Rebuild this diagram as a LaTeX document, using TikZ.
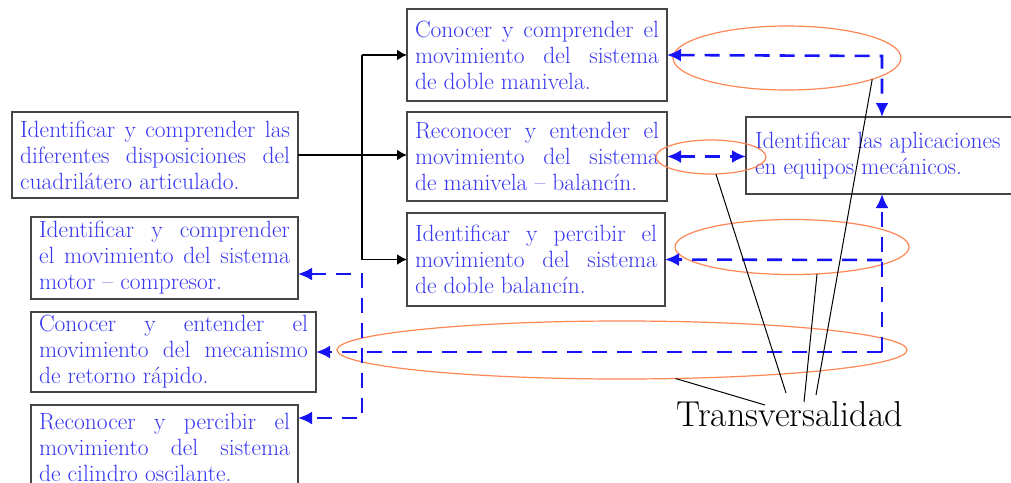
\documentclass[tikz,border=0pt]{standalone}
\usepackage{fontspec}
\usetikzlibrary{arrows.meta,shapes.geometric}
\definecolor{txtblue}{RGB}{55,55,240}
\definecolor{dashblue}{RGB}{20,20,245}
\definecolor{ellorange}{RGB}{255,135,85}
\definecolor{boxgray}{RGB}{70,70,70}
\newcommand{\bt}[2]{\parbox{#1pt}{\fontsize{23.5}{26}\selectfont\color{txtblue}\tolerance=10000\hbadness=10000\parindent=0pt #2\par}}
\newcommand{\btl}[2]{\parbox{#1pt}{\fontsize{23.5}{26}\selectfont\color{txtblue}\raggedright\parindent=0pt #2\par}}
\tikzset{
  box/.style={draw=boxgray, line width=1.5pt, fill=white, inner sep=0pt, outer sep=0pt},
  ell/.style={ellipse, draw=ellorange, line width=1.2pt, inner sep=0pt, outer sep=0pt},
  blk/.style={line width=1.8pt, black},
  blkarrow/.style={blk, -{Latex[length=10pt,width=11pt]}},
  bdash/.style={line width=2.6pt, dashblue, dash pattern=on 15pt off 10pt},
  btip/.tip={Latex[length=14pt,width=13pt]},
  thin/.style={line width=1pt, black}
}
\begin{document}
\begin{tikzpicture}[x=1pt,y=-1pt]
\useasboundingbox (0,0) rectangle (1011,482);
\fill[white] (0,0) rectangle (1011,482);
% boxes
\node[box, minimum width=286, minimum height=86] (A) at (155,155)
  {\bt{270}{Identificar y comprender las\linebreak diferentes disposiciones del\linebreak cuadrilátero articulado.}};
\node[box, minimum width=267, minimum height=82] (B) at (164.5,258)
  {\bt{251}{Identificar y comprender\linebreak el movimiento del sistema\linebreak motor – compresor.}};
\node[box, minimum width=285, minimum height=80] (C) at (173.5,352)
  {\bt{269}{Conocer y entender el\linebreak movimiento del mecanismo\linebreak de retorno rápido.}};
\node[box, minimum width=267, minimum height=85] (D) at (164.5,447.5)
  {\bt{251}{Reconocer y percibir el\linebreak movimiento del sistema\linebreak de cilindro oscilante.}};
\node[box, minimum width=260, minimum height=92] (E) at (537,55)
  {\bt{244}{Conocer y comprender el\linebreak movimiento del sistema\linebreak de doble manivela.}};
\node[box, minimum width=260, minimum height=89] (F) at (537,156.5)
  {\bt{244}{Reconocer y entender el\linebreak movimiento del sistema\linebreak de manivela – balancín.}};
\node[box, minimum width=258, minimum height=93] (G) at (536,259.5)
  {\bt{242}{Identificar y percibir el\linebreak movimiento del sistema\linebreak de doble balancín.}};
\node[box, minimum width=284, minimum height=77] (H) at (888,155.5)
  {\btl{266}{Identificar las aplicaciones\\ en equipos mecánicos.}};
% black tree
\coordinate (t) at (362,0);
\draw[blk] (E.west -| t) -- (G.west -| t);
\draw[blk] (A.east) -- (A.east -| t);
\draw[blkarrow] (E.west -| t) -- (E.west);
\draw[blkarrow] (A.east -| t) -- (A.east -| F.west);
\draw[blkarrow] (G.west -| t) -- (G.west);
% ellipses
\node[ell, minimum width=228, minimum height=64] (e1) at (787,58) {};
\node[ell, minimum width=110, minimum height=34] (e2) at (711,157) {};
\node[ell, minimum width=234, minimum height=55] (e3) at (792,247) {};
\node[ell, minimum width=570, minimum height=58] (e4) at (622,350) {};
% blue dashed connectors
\coordinate (c1) at (882,56);
\coordinate (c2) at (882,260);
\coordinate (c3) at (882,352);
\coordinate (c4) at (362,274);
\coordinate (c5) at (362,418);
\draw[bdash, {btip}-{btip}] (E.east) -- (c1) -- (c1 |- H.north);
\draw[bdash, {btip}-{btip}] (F.east) -- (F.east -| H.west);
\draw[bdash, -{btip}] (c2) -- (G.east);
\draw[bdash, -{btip}] (c3) -- (C.east);
\draw[bdash, -{btip}] (c3) -- (c3 |- H.south);
\draw[bdash, {btip}-{btip}] (B.east |- c4) -- (c4) -- (c5) -- (D.east |- c5);
% label
\node[anchor=base, inner sep=0pt, font=\fontsize{36}{38}\selectfont] (T) at (790,426) {Transversalidad};
\coordinate (p1) at (786,393);
\coordinate (p2) at (804,402);
\coordinate (p3) at (816,395);
\coordinate (p4) at (765,405);
\draw[thin] (p1) -- (e2.-74);
\draw[thin] (p2) -- (e3.-47);
\draw[thin] (p3) -- (e1.-14.5);
\draw[thin] (p4) -- (e4.-28);
\end{tikzpicture}
\end{document}
